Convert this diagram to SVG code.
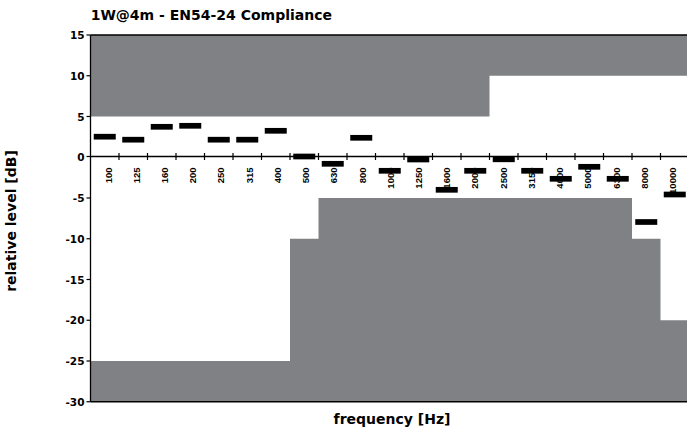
<svg xmlns="http://www.w3.org/2000/svg" width="687" height="429" viewBox="0 0 687 429">
<style>
.mask{fill:#808184;}
.ax{stroke:#000;stroke-width:1.3;fill:none;}
.tk{stroke:#000;stroke-width:1.2;}
.bar{fill:#000;}
.yl{font-family:"DejaVu Sans",Verdana,sans-serif;font-weight:bold;font-size:10.5px;text-anchor:end;fill:#000;}
.xl{font-family:"Liberation Sans",Arial,sans-serif;font-weight:bold;font-size:9.5px;text-anchor:end;fill:#000;}
.lab{font-family:"DejaVu Sans",Verdana,sans-serif;font-weight:bold;font-size:14px;fill:#000;}
</style>
<rect width="687" height="429" fill="#fff"/>
<g id="masks">
<path class="mask" d="M90.5,35 H687 V75.75 H489.5 V116.5 H90.5 Z"/>
<path class="mask" d="M90.5,401.75 V361 H290 V238.75 H318.5 V198 H632 V238.75 H660.5 V320.25 H687 V401.75 Z"/>
</g>
<g id="axes">
<line class="ax" x1="90.5" y1="35" x2="687" y2="35"/>
<line class="ax" x1="90.5" y1="35" x2="90.5" y2="401.75"/>
<line class="ax" x1="90.5" y1="401.75" x2="687" y2="401.75"/>
<line class="ax" x1="90.5" y1="156.5" x2="687" y2="156.5"/>
<g class="tk">
<line x1="86.5" y1="35" x2="90.5" y2="35"/>
<line x1="86.5" y1="75.75" x2="90.5" y2="75.75"/>
<line x1="86.5" y1="116.5" x2="90.5" y2="116.5"/>
<line x1="86.5" y1="156.5" x2="90.5" y2="156.5"/>
<line x1="86.5" y1="198" x2="90.5" y2="198"/>
<line x1="86.5" y1="238.75" x2="90.5" y2="238.75"/>
<line x1="86.5" y1="279.5" x2="90.5" y2="279.5"/>
<line x1="86.5" y1="320.25" x2="90.5" y2="320.25"/>
<line x1="86.5" y1="361" x2="90.5" y2="361"/>
<line x1="86.5" y1="401.75" x2="90.5" y2="401.75"/>
<line x1="119" y1="153" x2="119" y2="160"/>
<line x1="147.5" y1="153" x2="147.5" y2="160"/>
<line x1="176" y1="153" x2="176" y2="160"/>
<line x1="204.5" y1="153" x2="204.5" y2="160"/>
<line x1="233" y1="153" x2="233" y2="160"/>
<line x1="261.5" y1="153" x2="261.5" y2="160"/>
<line x1="290" y1="153" x2="290" y2="160"/>
<line x1="318.5" y1="153" x2="318.5" y2="160"/>
<line x1="347" y1="153" x2="347" y2="160"/>
<line x1="375.5" y1="153" x2="375.5" y2="160"/>
<line x1="404" y1="153" x2="404" y2="160"/>
<line x1="432.5" y1="153" x2="432.5" y2="160"/>
<line x1="461" y1="153" x2="461" y2="160"/>
<line x1="489.5" y1="153" x2="489.5" y2="160"/>
<line x1="518" y1="153" x2="518" y2="160"/>
<line x1="546.5" y1="153" x2="546.5" y2="160"/>
<line x1="575" y1="153" x2="575" y2="160"/>
<line x1="603.5" y1="153" x2="603.5" y2="160"/>
<line x1="632" y1="153" x2="632" y2="160"/>
<line x1="660.5" y1="153" x2="660.5" y2="160"/>
</g>
</g>
<g id="ylabels">
<text class="yl" x="84.5" y="39">15</text>
<text class="yl" x="84.5" y="79.75">10</text>
<text class="yl" x="84.5" y="120.5">5</text>
<text class="yl" x="84.5" y="160.5">0</text>
<text class="yl" x="84.5" y="202">-5</text>
<text class="yl" x="84.5" y="242.75">-10</text>
<text class="yl" x="84.5" y="283.5">-15</text>
<text class="yl" x="84.5" y="324.25">-20</text>
<text class="yl" x="84.5" y="365">-25</text>
<text class="yl" x="84.5" y="405.75">-30</text>
</g>
<g id="xlabels">
<text class="xl" transform="translate(111.5,167.5) rotate(-90)">100</text>
<text class="xl" transform="translate(139.7,167.5) rotate(-90)">125</text>
<text class="xl" transform="translate(167.9,167.5) rotate(-90)">160</text>
<text class="xl" transform="translate(196.2,167.5) rotate(-90)">200</text>
<text class="xl" transform="translate(224.4,167.5) rotate(-90)">250</text>
<text class="xl" transform="translate(252.6,167.5) rotate(-90)">315</text>
<text class="xl" transform="translate(280.8,167.5) rotate(-90)">400</text>
<text class="xl" transform="translate(309.0,167.5) rotate(-90)">500</text>
<text class="xl" transform="translate(337.3,167.5) rotate(-90)">630</text>
<text class="xl" transform="translate(365.5,167.5) rotate(-90)">800</text>
<text class="xl" transform="translate(393.7,167.5) rotate(-90)">1000</text>
<text class="xl" transform="translate(421.9,167.5) rotate(-90)">1250</text>
<text class="xl" transform="translate(450.1,167.5) rotate(-90)">1600</text>
<text class="xl" transform="translate(478.4,167.5) rotate(-90)">2000</text>
<text class="xl" transform="translate(506.6,167.5) rotate(-90)">2500</text>
<text class="xl" transform="translate(534.8,167.5) rotate(-90)">3150</text>
<text class="xl" transform="translate(563.0,167.5) rotate(-90)">4000</text>
<text class="xl" transform="translate(591.2,167.5) rotate(-90)">5000</text>
<text class="xl" transform="translate(619.5,167.5) rotate(-90)">6300</text>
<text class="xl" transform="translate(647.7,167.5) rotate(-90)">8000</text>
<text class="xl" transform="translate(675.9,167.5) rotate(-90)">10000</text>
</g>
<g id="bars">
<rect class="bar" x="93.75" y="133.85" width="22" height="5.7"/>
<rect class="bar" x="122.25" y="136.85" width="22" height="5.7"/>
<rect class="bar" x="150.75" y="123.95" width="22" height="5.7"/>
<rect class="bar" x="179.25" y="122.95" width="22" height="5.7"/>
<rect class="bar" x="207.75" y="136.85" width="22" height="5.7"/>
<rect class="bar" x="236.25" y="136.85" width="22" height="5.7"/>
<rect class="bar" x="264.75" y="127.95" width="22" height="5.7"/>
<rect class="bar" x="293.25" y="153.65" width="22" height="5.7"/>
<rect class="bar" x="321.75" y="160.95" width="22" height="5.7"/>
<rect class="bar" x="350.25" y="134.95" width="22" height="5.7"/>
<rect class="bar" x="378.75" y="167.95" width="22" height="5.7"/>
<rect class="bar" x="407.25" y="156.65" width="22" height="5.7"/>
<rect class="bar" x="435.75" y="186.95" width="22" height="5.7"/>
<rect class="bar" x="464.25" y="167.95" width="22" height="5.7"/>
<rect class="bar" x="492.75" y="156.45" width="22" height="5.7"/>
<rect class="bar" x="521.25" y="167.95" width="22" height="5.7"/>
<rect class="bar" x="549.75" y="175.95" width="22" height="5.7"/>
<rect class="bar" x="578.25" y="163.95" width="22" height="5.7"/>
<rect class="bar" x="606.75" y="175.95" width="22" height="5.7"/>
<rect class="bar" x="635.25" y="219.15" width="22" height="5.7"/>
<rect class="bar" x="663.75" y="191.65" width="22" height="5.7"/>
</g>
<g id="titles">
<text class="lab" x="90.7" y="20">1W@4m - EN54-24 Compliance</text>
<text class="lab" x="392" y="423.5" text-anchor="middle">frequency [Hz]</text>
<text class="lab" transform="translate(15.5,221) rotate(-90)" text-anchor="middle">relative level [dB]</text>
</g>
</svg>
